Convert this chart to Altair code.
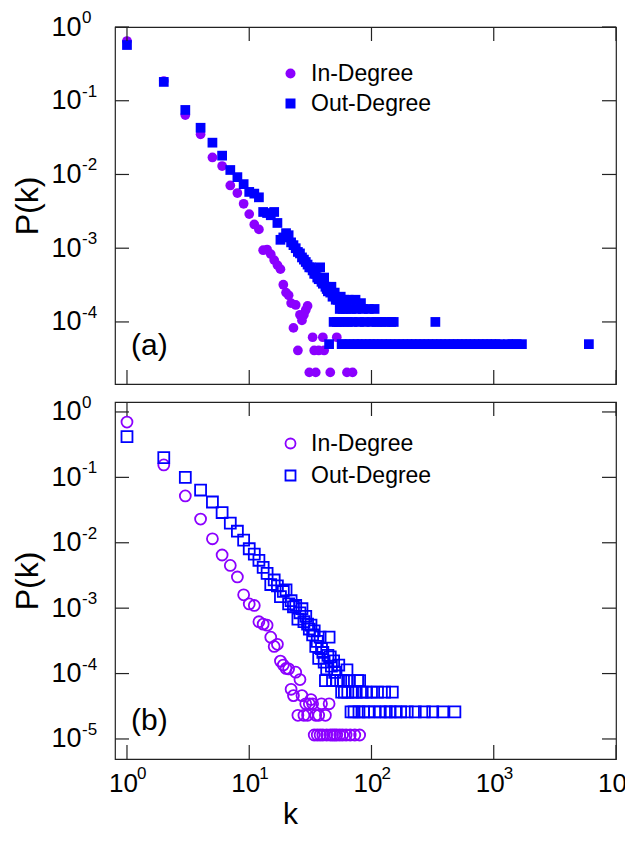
import altair as alt
import pandas as pd

# ---------------- data ----------------
series = ["In-Degree", "Out-Degree"]
colors = ["#8B00FF", "#0000FF"]

# panel (a)
in_k_a = [1, 2, 3, 4, 5, 6, 7, 8, 9, 10, 11, 12, 13, 14, 15, 16, 17, 18, 19, 20,
          21, 22, 23, 24, 25, 26, 27, 28, 29, 30, 31, 33, 34, 35, 37, 40, 41, 46, 52, 63, 70]
in_p_a = [0.645, 0.185, 0.064, 0.035, 0.017, 0.013, 0.0071, 0.0056, 0.0040, 0.0029,
          0.0021, 0.0018, 0.00094, 0.00096, 0.00083, 0.00069, 0.00059, 0.00052, 0.00032, 0.00025,
          0.00023, 0.00018, 0.000083, 0.00017, 0.000041, 0.000125, 0.000105, 0.000125, 0.000145, 0.000165,
          0.0000207, 0.000062, 0.000041, 0.0000207, 0.000041, 0.000062, 0.000041, 0.0000207, 0.000062,
          0.0000207, 0.0000207]

out_k_a = [1, 2, 3, 4, 5, 6, 7, 8, 9, 10, 11, 12, 13, 14, 15, 16, 17, 18, 19, 20,
           21, 22, 23, 24, 25, 26, 27, 28, 29, 30, 31, 32, 33, 34, 35, 36, 37, 38, 39, 40,
           41, 42, 43, 44, 45, 46, 47, 48, 49, 50, 51, 52, 53, 54, 55, 56, 57, 58, 59, 60,
           61, 62, 64, 65, 66, 68, 70, 72, 74, 75, 77, 79, 82, 83, 85, 88, 90, 95, 97, 100,
           104, 106, 110, 112, 120, 122, 130, 132, 143, 145, 152, 155, 168, 182, 197, 213, 230, 249,
           270, 292, 316, 333, 342, 370, 400, 433, 469, 507, 549, 594, 643, 696, 753, 815,
           882, 955, 1033, 1118, 1310, 1420, 1540, 1700, 6000]
out_p_a = [0.57, 0.18, 0.075, 0.043, 0.027, 0.018, 0.0115, 0.0092, 0.0074, 0.0058,
           0.0055, 0.0049, 0.0031, 0.0030, 0.0028, 0.0031, 0.0022, 0.0013, 0.0014, 0.0016,
           0.0015, 0.0012, 0.0011, 0.0010, 0.00089, 0.00085, 0.00075, 0.00070, 0.00065, 0.00060,
           0.00055, 0.00055, 0.00050, 0.00045, 0.00045, 0.00040, 0.00038, 0.00055, 0.00035, 0.00033,
           0.00040, 0.00030, 0.00028, 0.00026, 0.00005, 0.00025, 0.00030, 0.00022, 0.00010, 0.00025,
           0.00020, 0.00010, 0.00020, 0.00010, 0.00015, 0.00022, 0.00005, 0.00015, 0.00010, 0.00020,
           0.00005, 0.00015, 0.00010, 0.00020, 0.00005, 0.00015, 0.00010, 0.00005, 0.00020, 0.00015,
           0.00005, 0.00010, 0.00018, 0.00005, 0.00015, 0.00010, 0.00005, 0.00015, 0.00005, 0.00010,
           0.00005, 0.00015, 0.00010, 0.00005, 0.00010, 0.00005, 0.00010, 0.00005, 0.00005, 0.00010,
           0.00010, 0.00005, 0.00005, 0.00005, 0.00005, 0.00005, 0.00005, 0.00005,
           0.00005, 0.00005, 0.00005, 0.00010, 0.00005, 0.00005, 0.00005, 0.00005, 0.00005, 0.00005,
           0.00005, 0.00005, 0.00005, 0.00005, 0.00005, 0.00005,
           0.00005, 0.00005, 0.00005, 0.00005, 0.00005, 0.00005, 0.00005, 0.00005, 0.00005]

# panel (b)
in_k_b = [1, 2, 3, 4, 5, 6, 7, 8, 9, 10, 11, 12, 13, 14, 15, 16, 17, 18, 19, 20,
          21, 22, 23, 24, 25, 26, 27, 28, 29, 30, 31, 32, 33, 34, 35, 36, 37, 38, 39, 40,
          42, 43, 45, 46, 48, 50, 52, 55, 58, 62, 67, 73, 80]
in_p_b = [0.70, 0.155, 0.052, 0.023, 0.0115, 0.0065, 0.0045, 0.0030, 0.0016, 0.00116,
          0.0011, 0.00062, 0.00057, 0.00055, 0.00036, 0.00026, 0.00028, 0.000155, 0.000135, 0.00012,
          0.000118, 0.0000575, 0.000046, 0.000105, 0.000023, 0.000081, 0.000046, 0.000023, 0.0000345, 0.000023,
          0.0000345, 0.000040, 0.0000345, 0.0000115, 0.000023, 0.0000115, 0.000023, 0.0000115, 0.0000345, 0.0000115,
          0.000023, 0.0000115, 0.0000345, 0.0000115, 0.0000115, 0.0000115, 0.0000115, 0.0000115, 0.0000115,
          0.0000115, 0.0000115, 0.0000115, 0.0000115]

out_k_b = [1, 2, 3, 4, 5, 6, 7, 8, 9, 10, 11, 12, 13, 14, 15, 16, 17, 18, 19, 20,
           21, 22, 23, 24, 25, 26, 27, 28, 29, 30, 31, 32, 33, 34, 35, 36, 37, 38, 39, 40,
           41, 42, 43, 44, 45, 46, 47, 48, 49, 50, 52, 54, 56, 57, 59, 60, 63, 64, 66, 68,
           70, 72, 75, 77, 79, 80, 84, 86, 90, 94, 100, 106, 112, 118, 128, 132, 142, 148,
           157, 173, 196, 228, 271, 317, 383, 481]
out_p_b = [0.42, 0.20, 0.10, 0.064, 0.042, 0.029, 0.020, 0.015, 0.011, 0.0081,
           0.0067, 0.0054, 0.0042, 0.0034, 0.0023, 0.0027, 0.0022, 0.0015, 0.0018, 0.0019,
           0.00116, 0.0013, 0.00105, 0.0011, 0.00068, 0.00085, 0.00098, 0.00062, 0.00075, 0.00057,
           0.00048, 0.00055, 0.00039, 0.00045, 0.00026, 0.00031, 0.00017, 0.00036, 0.00024, 0.00021,
           0.00015, 0.000078, 0.000118, 0.00019, 0.00036, 0.00018, 0.00013, 0.000078, 0.000156, 0.000104,
           0.000078, 0.000135, 0.000078, 0.000052, 0.000078, 0.000052, 0.000114, 0.000052, 0.000078, 0.000026,
           0.000052, 0.000026, 0.000052, 0.000078, 0.000026, 0.000078, 0.000052, 0.000026, 0.000052, 0.000026,
           0.000052, 0.000026, 0.000052, 0.000026, 0.000052, 0.000026, 0.000026, 0.000052,
           0.000026, 0.000026, 0.000026, 0.000026, 0.000026, 0.000026, 0.000026, 0.000026]

# tick values and their exponent labels
x_ticks = [1, 10, 100, 1000, 10000]
x_exp = ["0", "1", "2", "3", "4"]
y_ticks_a = [1, 0.1, 0.01, 0.001, 0.0001]
y_exp_a = ["0", "-1", "-2", "-3", "-4"]
y_ticks_b = [1, 0.1, 0.01, 0.001, 0.0001, 0.00001]
y_exp_b = ["0", "-1", "-2", "-3", "-4", "-5"]

# ---------------- chart ----------------
W, H = 501, 357
FONT = "Liberation Sans"
FRAME = "#222222"
BASE_FS = 26
Y_BASE_FS = 27
EXP_FS = 17


def frame_df(k, p, name):
    return pd.DataFrame({"k": k, "P": p, "series": name})


def panel(df, yticks, yexp, ydom, filled, tag, show_x, leg_y, row_pad):
    xscale = alt.Scale(type="log", domain=[0.798, 10000], nice=False)
    yscale = alt.Scale(type="log", domain=ydom, nice=False)
    xaxis = alt.Axis(values=x_ticks, labelExpr="'10'", ticks=False, domain=False, grid=False,
                     labels=show_x, labelFontSize=BASE_FS, labelPadding=11, labelOffset=-4,
                     labelFlush=False, labelOverlap=False,
                     labelFont=FONT, labelColor="black", title="k" if show_x else None,
                     titleFontSize=30, titleFontWeight="normal", titleFont=FONT,
                     titlePadding=3, titleX=175, titleAnchor="start", titleAlign="center",
                     titleColor="black")
    yaxis = alt.Axis(values=yticks, labelExpr="'10'", ticks=False, domain=False, grid=False,
                     labelFontSize=Y_BASE_FS, labelFont=FONT, labelColor="black",
                     labelFlush=False, labelOverlap=False, labelPadding=34,
                     title="P(k)", titleFontSize=32, titleFontWeight="normal", titleFont=FONT,
                     titlePadding=6, titleColor="black")
    legend = alt.Legend(orient="none", legendX=164, legendY=leg_y, title=None, padding=0,
                        labelFontSize=23, labelFont=FONT, labelColor="black", labelOffset=9,
                        symbolSize=100, symbolStrokeWidth=1.8, rowPadding=row_pad)
    size = 95 if filled else 120
    pts = alt.Chart(df).mark_point(filled=filled, size=size, strokeWidth=1.8, opacity=1).encode(
        x=alt.X("k:Q", scale=xscale, axis=xaxis),
        y=alt.Y("P:Q", scale=yscale, axis=yaxis),
        color=alt.Color("series:N", scale=alt.Scale(domain=series, range=colors), legend=legend),
        shape=alt.Shape("series:N", scale=alt.Scale(domain=series, range=["circle", "square"]),
                        legend=legend),
    )
    xt = pd.DataFrame({"t": x_ticks, "e": x_exp})
    yt = pd.DataFrame({"t": yticks, "e": yexp})
    rule = dict(color=FRAME, strokeWidth=1.2)
    xb = alt.Chart(xt).mark_rule(**rule).encode(
        x=alt.X("t:Q", scale=xscale), y=alt.value(H - 14), y2=alt.value(H))
    xtp = alt.Chart(xt).mark_rule(**rule).encode(
        x=alt.X("t:Q", scale=xscale), y=alt.value(0), y2=alt.value(14))
    yl = alt.Chart(yt).mark_rule(**rule).encode(
        y=alt.Y("t:Q", scale=yscale), x=alt.value(0), x2=alt.value(14))
    yr = alt.Chart(yt).mark_rule(**rule).encode(
        y=alt.Y("t:Q", scale=yscale), x=alt.value(W - 14), x2=alt.value(W))
    yexp_txt = alt.Chart(yt).mark_text(
        fontSize=EXP_FS, font=FONT, align="left", baseline="middle", dy=-9, color="black").encode(
        y=alt.Y("t:Q", scale=yscale), x=alt.value(-33), text="e:N")
    lab = alt.Chart(pd.DataFrame({"t": [tag]})).mark_text(
        fontSize=30, font=FONT, align="left", baseline="middle", color="black").encode(
        x=alt.value(16), y=alt.value(H - 38), text="t:N")
    layers = [pts, xb, xtp, yl, yr, yexp_txt, lab]
    if show_x:
        xexp_txt = alt.Chart(xt).mark_text(
            fontSize=EXP_FS, font=FONT, align="left", baseline="top", dx=10, dy=-4,
            color="black").encode(
            x=alt.X("t:Q", scale=xscale), y=alt.value(H + 11), text="e:N")
        layers.append(xexp_txt)
    return alt.layer(*layers).properties(width=W, height=H)


df_a = pd.concat([frame_df(in_k_a, in_p_a, "In-Degree"), frame_df(out_k_a, out_p_a, "Out-Degree")])
df_b = pd.concat([frame_df(in_k_b, in_p_b, "In-Degree"), frame_df(out_k_b, out_p_b, "Out-Degree")])

top = panel(df_a, y_ticks_a, y_exp_a, [1.44e-5, 1.0], True, "(a)", False, 35, 6)
bottom = panel(df_b, y_ticks_b, y_exp_b, [4.94e-6, 1.42], False, "(b)", True, 30, 8)

chart = alt.vconcat(top, bottom, spacing=18, bounds="flush").resolve_scale(
    x="independent", y="independent", color="independent", shape="independent"
).resolve_legend(color="independent", shape="independent").configure(
    font=FONT
).configure_view(
    stroke=FRAME, strokeWidth=1.2
).properties(padding={"left": 3, "top": 0, "right": -12, "bottom": -3}, background="white")

chart.save("out.html", embed_options={"renderer": "svg", "actions": False})
